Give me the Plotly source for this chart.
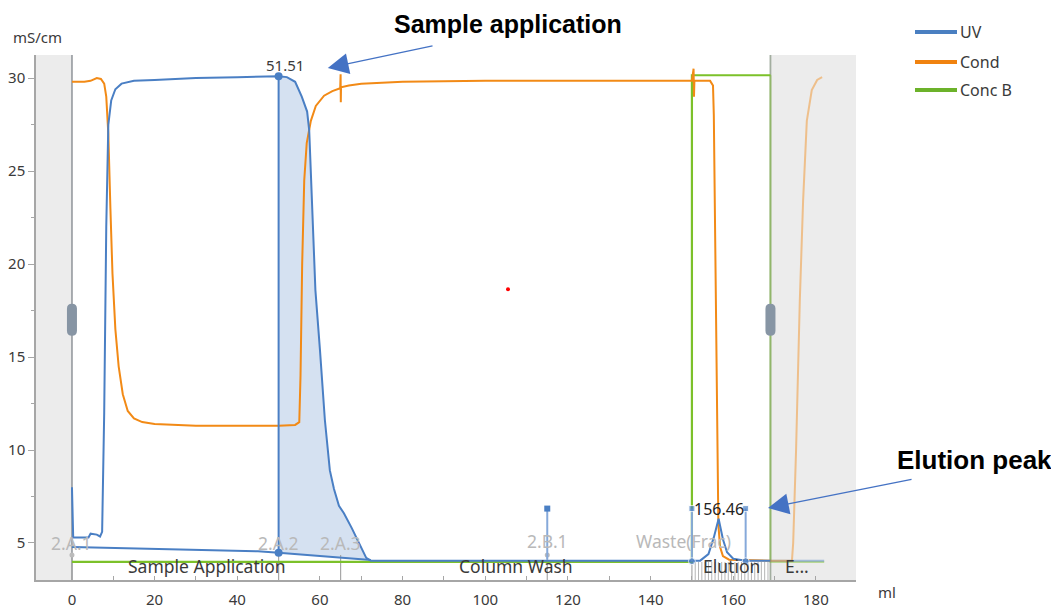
import numpy as np
import plotly.graph_objects as go

# ---------------- data ----------------
uv_x = [0, 0.3, 4.0, 4.5, 6.0, 6.8, 7.3, 7.8, 8.3, 8.8, 9.5, 10.5, 12, 15, 20, 30, 40, 50,
        52, 54, 55.6, 56.9, 57.4, 57.9, 58.4, 58.9, 60, 61.2, 62.4, 63.4, 64.6, 65.8, 67.7, 69, 70.2,
        71.2, 72.3, 80, 115, 150, 152, 154, 155.3, 156.46, 157.5, 158.5, 160, 163, 169]
uv_y = [8.0, 5.3, 5.3, 5.5, 5.45, 5.35, 5.6, 12, 22, 27.5, 28.8, 29.4, 29.7, 29.85, 29.9, 30.0, 30.05, 30.1,
        30.05, 29.8, 29.0, 28.2, 27.2, 24.0, 21.0, 18.6, 15.4, 11.6, 8.9, 7.9, 7.0, 6.6, 5.8, 5.2, 4.6,
        4.2, 4.05, 4.05, 4.05, 4.02, 4.05, 4.4, 5.3, 6.3, 5.2, 4.5, 4.15, 4.05, 4.05]
uv_tail_x = [169, 182]
uv_tail_y = [4.05, 4.05]

base_x = [0, 30, 45, 50, 72.3]
base_y = [4.78, 4.65, 4.55, 4.47, 4.08]

cond_x = [0, 3, 4.5, 6, 7, 7.8, 8.3, 8.8, 9.3, 9.8, 10.5, 11.3, 12.3, 13.5, 15, 17, 20, 30, 40, 50,
          54, 55, 55.3, 55.7, 56.2, 56.8, 57.8, 59, 61, 63, 64.9, 65, 65.05, 65.1, 67, 70, 75, 80,
          100, 120, 140, 150, 150.4, 150.5, 150.6, 154.4, 155.1, 155.3, 155.7, 156.1, 156.4,
          156.8, 157.5, 159, 169]
cond_y = [29.8, 29.8, 29.85, 30.0, 29.95, 29.7, 29.0, 27.0, 23.0, 19.5, 16.5, 14.5, 13.0, 12.1, 11.7,
          11.5, 11.4, 11.3, 11.3, 11.3, 11.35, 11.5, 14.0, 20.0, 24.5, 26.5, 27.7, 28.5, 29.05, 29.3,
          29.45, 30.2, 28.7, 29.5, 29.6, 29.7, 29.75, 29.8, 29.85, 29.85, 29.85, 29.85, 30.5, 29.0,
          29.85, 29.85, 29.6, 28.0, 20.0, 10.0, 6.0, 4.8, 4.3, 4.1, 4.05]
cond_tail_x = [169, 174.2, 174.5, 175.2, 176.1, 176.9, 177.8, 179.0, 180.3, 181.5]
cond_tail_y = [4.05, 4.05, 5.0, 10.0, 18.0, 23.4, 27.7, 29.35, 29.9, 30.05]

concb_x = [0, 150, 150, 169]
concb_y = [3.98, 3.98, 30.15, 30.15]
concb_tail_x = [169, 169, 182]
concb_tail_y = [30.15, 3.98, 3.98]

peak1_start, peak1_end, peak1_label = 50, 72.3, "51.51"
peak1_label_x = 51.51
peak2_start, peak2_end, peak2_label = 150, 163, "156.46"
peak2_label_x = 156.46
peak_marker_level = 6.85
frac_marker_x = [115]

frac_x = [0, 50, 65, 115, 150]
frac_labels = ["2.A.1", "2.A.2", "2.A.3", "2.B.1", "Waste(Frac)"]
frac_label_x = [0, 50, 65, 115, 148]
frac_label_y = [5.0, 5.0, 5.0, 5.1, 5.1]

phase_labels = ["Sample Application", "Column Wash", "Elution", "E..."]
phase_label_x = [32.7, 107.5, 159.5, 175.5]

hatch_start, hatch_end, hatch_step = 150.8, 169, 0.8

xtick_vals = list(range(0, 190, 10))
xtick_text = [str(v) if v % 20 == 0 else "" for v in xtick_vals]
ytick_vals = [5, 10, 15, 20, 25, 30]

x_range = [-8.7, 189.7]
y_range = [3.01, 31.24]
run_end = 169

# ---------------- styling ----------------
BLUE = "#4a7fc4"
LBLUE = "#86a9da"
ORANGE = "#f28a16"
GREEN = "#7cc12a"
GRAY_TXT = "#b9b9b9"
DARK = "#3a3a3a"
FONT = "Noto Sans, Open Sans, sans-serif"

fig = go.Figure()

# peak 1 fill
ux = np.array(uv_x, dtype=float)
uy = np.array(uv_y, dtype=float)
m = (ux >= peak1_start) & (ux <= peak1_end)
seg_x = ux[m]
seg_y = uy[m]
bl_seg = np.interp(seg_x[::-1], base_x, base_y)
poly_x = np.concatenate([seg_x, seg_x[::-1]])
poly_y = np.concatenate([seg_y, bl_seg])
fig.add_trace(go.Scatter(x=poly_x, y=poly_y, fill="toself", fillcolor="rgba(74,127,196,0.23)",
                         line=dict(width=0), mode="lines", hoverinfo="skip"))

# fraction hatch marks in elution
hx = np.arange(hatch_start, hatch_end, hatch_step)
hatch_xs, hatch_ys = [], []
for v in hx:
    hatch_xs += [v, v, None]
    hatch_ys += [y_range[0], 3.98, None]
fig.add_trace(go.Scatter(x=hatch_xs, y=hatch_ys, mode="lines",
                         line=dict(color="#b5b5b5", width=1), hoverinfo="skip"))

# fraction ticks
fx, fy = [], []
for v in frac_x:
    fx += [v, v, None]
    fy += [y_range[0], 4.35, None]
fig.add_trace(go.Scatter(x=fx, y=fy, mode="lines", line=dict(color="#a8a8a8", width=1.2),
                         hoverinfo="skip"))
fig.add_trace(go.Scatter(x=[frac_x[0], frac_x[3]], y=[4.35, 4.35], mode="markers",
                         marker=dict(color="#bbbbbb", size=5), hoverinfo="skip"))

# Conc B
fig.add_trace(go.Scatter(x=concb_x, y=concb_y, mode="lines", line=dict(color=GREEN, width=2.2)))
fig.add_trace(go.Scatter(x=concb_tail_x, y=concb_tail_y, mode="lines",
                         line=dict(color=GREEN, width=2), opacity=0.45))

# baseline of peak 1 and UV
fig.add_trace(go.Scatter(x=base_x, y=base_y, mode="lines", line=dict(color=BLUE, width=2)))
fig.add_trace(go.Scatter(x=uv_tail_x, y=uv_tail_y, mode="lines",
                         line=dict(color=BLUE, width=2), opacity=0.45))

# Cond
fig.add_trace(go.Scatter(x=cond_x, y=cond_y, mode="lines", line=dict(color=ORANGE, width=2)))
fig.add_trace(go.Scatter(x=cond_tail_x, y=cond_tail_y, mode="lines",
                         line=dict(color=ORANGE, width=2), opacity=0.45))

fig.add_trace(go.Scatter(x=uv_x, y=uv_y, mode="lines", line=dict(color=BLUE, width=2)))

# peak 1 vertical + markers
p1_top = float(np.interp(peak1_start, uv_x, uv_y))
p1_bot = float(np.interp(peak1_start, base_x, base_y))
fig.add_trace(go.Scatter(x=[peak1_start, peak1_start], y=[p1_bot, p1_top], mode="lines+markers",
                         line=dict(color=BLUE, width=2), marker=dict(color=BLUE, size=8)))

# peak 2 boundaries
p2_bot = float(np.interp(peak2_start, uv_x, uv_y))
for v in [peak2_start, peak2_end]:
    fig.add_trace(go.Scatter(x=[v, v], y=[p2_bot, peak_marker_level], mode="lines",
                             line=dict(color=LBLUE, width=2)))
    fig.add_trace(go.Scatter(x=[v, v], y=[p2_bot, peak_marker_level], mode="markers",
                             marker=dict(color=BLUE, size=[7, 6], symbol=["circle", "square"])))
for v in frac_marker_x:
    fig.add_trace(go.Scatter(x=[v, v], y=[4.1, peak_marker_level], mode="lines",
                             line=dict(color=LBLUE, width=2)))
    fig.add_trace(go.Scatter(x=[v], y=[peak_marker_level], mode="markers",
                             marker=dict(color=BLUE, size=6, symbol="square")))

# red dot
fig.add_trace(go.Scatter(x=[105.5], y=[18.65], mode="markers", marker=dict(color="red", size=4)))

shapes = []
# gray out-of-run regions
shapes.append(dict(type="rect", xref="x", yref="paper", x0=x_range[0], x1=0, y0=0, y1=1,
                   fillcolor="#ececec", line=dict(width=0), layer="below"))
shapes.append(dict(type="rect", xref="x", yref="paper", x0=run_end, x1=x_range[1], y0=0, y1=1,
                   fillcolor="#ececec", line=dict(width=0), layer="below"))
for v, c in [(0, "#a0a4a8"), (run_end, "#a3aea0")]:
    shapes.append(dict(type="line", xref="x", yref="paper", x0=v, x1=v, y0=0, y1=1,
                       line=dict(color=c, width=1.8), layer="below"))
    shapes.append(dict(type="path", xref="x", yref="y", xsizemode="pixel", ysizemode="pixel",
                       xanchor=v, yanchor=17.0,
                       path="M -5,-11 L -5,11 Q -5,16 0,16 Q 5,16 5,11 L 5,-11 Q 5,-16 0,-16 Q -5,-16 -5,-11 Z",
                       fillcolor="#8795a4", line=dict(width=0)))

# page pixel -> paper coords (plot area spans page x 36..856, y 55..580)
def px(X):
    return (X - 36) / 820.0

def py(Y):
    return (580 - Y) / 525.0

C = dict(xanchor="center", yanchor="middle", showarrow=False)

leg = [("UV", "#4a7fc1", 32), ("Cond", "#f0820f", 62), ("Conc B", "#6cb22a", 90)]
annotations = []
for name, col, Y in leg:
    shapes.append(dict(type="line", xref="paper", yref="paper", x0=px(915), x1=px(957),
                       y0=py(Y), y1=py(Y), line=dict(color=col, width=4)))
    annotations.append(dict(xref="paper", yref="paper", x=px(958), y=py(Y), text=name,
                            showarrow=False, xanchor="left", yanchor="middle",
                            font=dict(size=16, color=DARK, family=FONT)))

# fraction labels
for t, x, y in zip(frac_labels, frac_label_x, frac_label_y):
    annotations.append(dict(x=x, y=y, text=t, font=dict(size=17.5, color=GRAY_TXT, family=FONT), **C))
for t, x in zip(phase_labels, phase_label_x):
    annotations.append(dict(x=x, y=3.76, text=t, font=dict(size=17.5, color=DARK, family=FONT), **C))

annotations.append(dict(x=peak1_label_x, y=30.72, text=peak1_label,
                        font=dict(size=15, color=DARK, family=FONT), **C))
annotations.append(dict(x=peak2_label_x, y=6.84, text=peak2_label,
                        font=dict(size=16, color="#222", family=FONT), **C))

# axis titles
annotations.append(dict(xref="paper", yref="paper", x=px(37), y=py(37), text="mS/cm",
                        font=dict(size=15, color=DARK, family=FONT), **C))
annotations.append(dict(xref="paper", yref="paper", x=px(887), y=py(592), text="ml",
                        font=dict(size=15, color=DARK, family=FONT), **C))

# callouts (text in paper coordinates so they are drawn outside the axis range)
annotations.append(dict(xref="paper", yref="paper", x=px(508), y=py(24), text="<b>Sample application</b>",
                        font=dict(size=25, color="black", family="Liberation Sans, Arial"), **C))
annotations.append(dict(x=61.9, y=30.54, ax=87.6, ay=31.75, axref="x", ayref="y", text="",
                        showarrow=True, arrowhead=2, arrowsize=3.2, arrowwidth=1.3, arrowcolor="#4472c4"))
annotations.append(dict(xref="paper", yref="paper", x=px(975), y=py(460), text="<b>Elution peak</b>",
                        font=dict(size=26, color="black", family="Liberation Sans, Arial"), **C))
annotations.append(dict(x=168.4, y=6.88, ax=203.5, ay=8.44, axref="x", ayref="y", text="",
                        showarrow=True, arrowhead=2, arrowsize=3.2, arrowwidth=1.3, arrowcolor="#4472c4"))

# the page body has an 8 px margin, so the figure is 8 px smaller and margins shifted
fig.update_layout(
    width=1051, height=601,
    margin=dict(l=28, r=203, t=47, b=29, autoexpand=False),
    paper_bgcolor="white", plot_bgcolor="white",
    showlegend=False,
    shapes=shapes, annotations=annotations,
    font=dict(family=FONT, color=DARK),
    xaxis=dict(range=x_range, automargin=False, showgrid=False, zeroline=False, showline=True,
               linecolor="#a6a6a6", linewidth=1.5, ticks="inside", ticklen=4, tickcolor="#a6a6a6",
               tickvals=xtick_vals, ticktext=xtick_text, tickfont=dict(size=15, color=DARK),
               ticklabelstandoff=5),
    yaxis=dict(range=y_range, automargin=False, showgrid=False, zeroline=False, showline=True,
               linecolor="#a6a6a6", linewidth=1.5, ticks="outside", ticklen=6, tickcolor="#a6a6a6",
               tickvals=ytick_vals, tickfont=dict(size=15, color=DARK),
               minor=dict(dtick=2.5, tick0=0, ticks="outside", ticklen=3, tickcolor="#a6a6a6")),
)

fig.write_html("out.html")
